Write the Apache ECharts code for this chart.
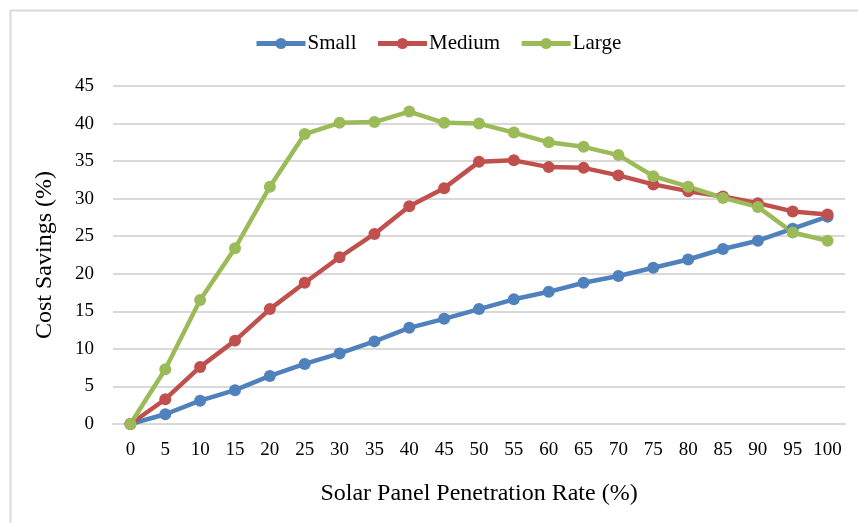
<!DOCTYPE html>
<html>
<head>
<meta charset="utf-8">
<script src="https://cdn.jsdelivr.net/npm/echarts@6/dist/echarts.min.js"></script>
<style>html,body{margin:0;padding:0;background:#fff;}#c{width:858px;height:523px;}</style>
</head>
<body>
<div id="c"></div>
<script>
const categories = ['0','5','10','15','20','25','30','35','40','45','50','55','60','65','70','75','80','85','90','95','100'];
const small  = [0,1.3,3.1,4.5,6.4,8.0,9.4,11.0,12.8,14.0,15.3,16.6,17.6,18.8,19.7,20.8,21.9,23.3,24.4,26.0,27.6];
const medium = [0,3.3,7.6,11.1,15.3,18.8,22.2,25.3,29.0,31.4,34.9,35.1,34.2,34.1,33.1,31.9,31.0,30.3,29.4,28.3,27.9];
const large  = [0,7.3,16.5,23.4,31.6,38.6,40.1,40.2,41.6,40.1,40.0,38.8,37.5,36.9,35.8,33.0,31.6,30.1,28.9,25.5,24.4];
const seriesNames = ['Small','Medium','Large'];
const colors = ['#4f81bd','#c0504d','#9bbb59'];

const font = 'Liberation Serif';
const chart = echarts.init(document.getElementById('c'), null, {renderer:'canvas'});
function mk(name, data, color){
  return {name, type:'line', data, color, symbol:'circle', symbolSize:12,
    lineStyle:{width:4.5, color}, itemStyle:{color}, animation:false};
}
chart.setOption({
  animation:false,
  textStyle:{fontFamily:font},
  graphic:[{type:'rect', left:8, top:8, shape:{width:900, height:600},
    style:{fill:'none', stroke:'#d9d9d9', lineWidth:2}, silent:true}],
  legend:{top:33, left:254, padding:0, itemWidth:49, itemHeight:14, itemGap:19,
    lineStyle:{width:5},
    textStyle:{fontFamily:font, fontSize:21, color:'#000', padding:[0,0,0,-3]},
    data:seriesNames},
  grid:{left:113, right:13, top:86, bottom:99, containLabel:false},
  xAxis:{type:'category', data:categories, boundaryGap:true,
    axisLine:{lineStyle:{color:'#d9d9d9', width:2}}, axisTick:{show:false},
    axisLabel:{fontFamily:font, fontSize:19, color:'#000', margin:17, interval:0},
    name:'Solar Panel Penetration Rate (%)', nameLocation:'middle', nameGap:58,
    nameTextStyle:{fontFamily:font, fontSize:24, color:'#000'}},
  yAxis:{type:'value', min:0, max:45, interval:5,
    axisLine:{show:false}, axisTick:{show:false},
    splitLine:{lineStyle:{color:'#d9d9d9', width:2}},
    axisLabel:{fontFamily:font, fontSize:19, color:'#000', margin:19},
    name:'Cost Savings (%)', nameLocation:'middle', nameGap:56, nameRotate:90,
    nameTextStyle:{fontFamily:font, fontSize:24, color:'#000'}},
  series:[mk(seriesNames[0], small, colors[0]), mk(seriesNames[1], medium, colors[1]), mk(seriesNames[2], large, colors[2])]
});
</script>
</body>
</html>
